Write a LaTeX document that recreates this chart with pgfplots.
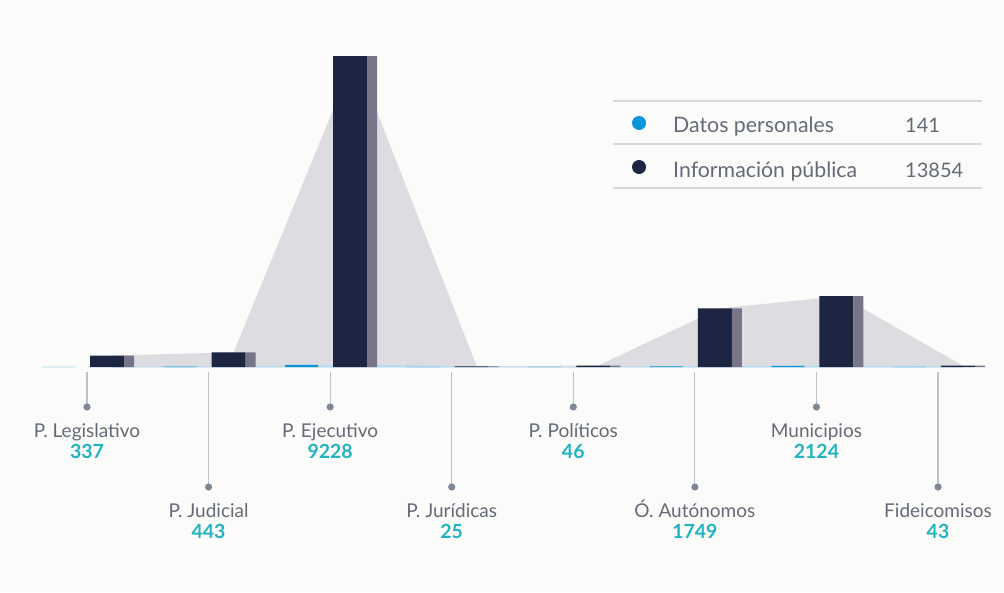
\documentclass[border=0pt]{standalone}
\usepackage{pgfplots}
\pgfplotsset{compat=1.18}
\usepackage{fontspec}
\setmainfont{Lato}
\definecolor{bg}{HTML}{FBFBFA}
\definecolor{navy}{HTML}{1C2541}
\definecolor{side}{HTML}{787589}
\definecolor{areagrey}{HTML}{DDDDE1}
\definecolor{dpblue}{HTML}{0A96D8}
\definecolor{lightblue}{HTML}{B5DCF2}
\definecolor{labgrey}{HTML}{656A77}
\definecolor{teal}{HTML}{22B3C2}
\definecolor{legline}{HTML}{D6D8DC}
\definecolor{pinline}{HTML}{BCC1CA}
\definecolor{pindot}{HTML}{7D8797}
\begin{document}
\begin{tikzpicture}
\begin{axis}[
  at={(0,0)}, anchor=south west,
  width=1004pt, height=592pt, scale only axis,
  hide axis, clip=false,
  axis background/.style={fill=bg},
  xmin=-0.9213, xmax=7.3373, ymin=-6633, ymax=10819,
]
% grey area behind (Información pública)
\addplot[fill=areagrey, draw=none] coordinates {
 (0,336) (1,433) (2,9164) (3,22) (4,44) (5,1729) (6,2088) (7,38)} \closedcycle;
% light blue area (Datos personales)
\addplot[fill=lightblue, draw=lightblue, line width=0.7pt] coordinates {
 (0,1) (1,10) (2,64) (3,3) (4,2) (5,20) (6,36) (7,5)} \closedcycle;
% Datos personales bars
\addplot[ybar, bar width=33pt, bar shift=-53.5pt, fill=dpblue, draw=none] coordinates {
 (0,1) (1,10) (2,64) (3,3) (4,2) (5,20) (6,36) (7,5)};
% Información pública bars
\addplot[ybar, bar width=34pt, bar shift=-5pt, fill=navy, draw=none] coordinates {
 (0,336) (1,433) (2,9164) (3,22) (4,44) (5,1729) (6,2088) (7,38)};
\addplot[ybar, bar width=10pt, bar shift=17pt, fill=side, draw=none] coordinates {
 (0,336) (1,433) (2,9164) (3,22) (4,44) (5,1729) (6,2088) (7,38)};
\end{axis}
% category pins and labels
\foreach \i/\name/\val/\row in {0/P. Legislativo/337/0, 1/P. Judicial/443/1, 2/P. Ejecutivo/9228/0, 3/P. Jurídicas/25/1, 4/P. Políticos/46/0, 5/Ó. Autónomos/1749/1, 6/Municipios/2124/0, 7/Fideicomisos/43/1} {
  \pgfmathsetmacro\xx{112+121.57*\i-25}
  \pgfmathsetmacro\dy{\row*80}
  \draw[pinline, line width=1.1pt] (\xx pt,220pt) -- (\xx pt,{(185-\dy)*1pt});
  \fill[pindot] (\xx pt,{(185-\dy)*1pt}) circle (3.6pt);
  \node[anchor=base, inner sep=0pt, text=labgrey, font=\fontsize{19}{22}\selectfont] at (\xx pt,{(155-\dy)*1pt}) {\name};
  \node[anchor=base, inner sep=0pt, text=teal, font=\fontsize{19.5}{22}\selectfont\bfseries] at (\xx pt,{(134-\dy)*1pt}) {\val};
}
% legend
\draw[legline, line width=1.2pt] (613pt,491pt) -- (982pt,491pt);
\draw[legline, line width=1.2pt] (613pt,448pt) -- (982pt,448pt);
\draw[legline, line width=1.2pt] (613pt,404pt) -- (982pt,404pt);
\fill[dpblue] (639pt,469pt) circle (7pt);
\fill[navy] (639pt,425pt) circle (7pt);
\node[anchor=base west, inner sep=0pt, text=labgrey, font=\fontsize{21.3}{24}\selectfont] at (673pt,459pt) {Datos personales};
\node[anchor=base west, inner sep=0pt, text=labgrey, font=\fontsize{21.3}{24}\selectfont] at (673pt,415pt) {Información pública};
\node[anchor=base west, inner sep=0pt, text=labgrey, font=\fontsize{20}{24}\selectfont] at (905pt,459pt) {141};
\node[anchor=base west, inner sep=0pt, text=labgrey, font=\fontsize{20}{24}\selectfont] at (905pt,415pt) {13854};
\end{tikzpicture}
\end{document}
